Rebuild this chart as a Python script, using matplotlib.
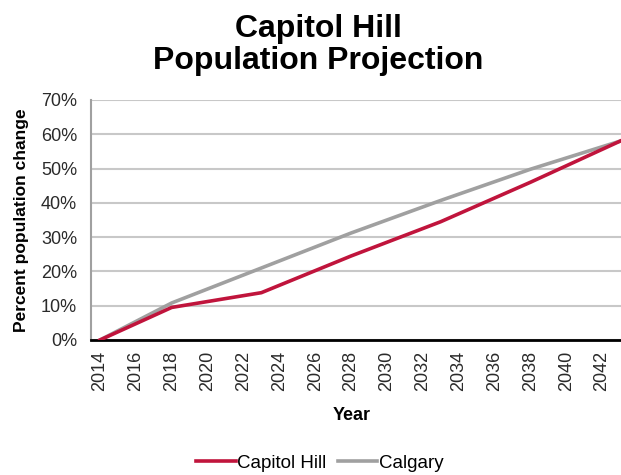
import numpy as np
import matplotlib.pyplot as plt
from matplotlib.ticker import FuncFormatter, MultipleLocator

plt.rcParams['font.family'] = ['Liberation Sans', 'DejaVu Sans']

# Projection values (percent change since 2014)
years = [2014, 2018, 2023, 2028, 2033, 2038, 2043]
capitol_hill = [0.0, 9.5, 13.8, 24.5, 34.5, 46.0, 58.0]
calgary = [0.0, 10.8, 21.0, 31.2, 40.7, 49.8, 58.0]
tick_years = list(range(2014, 2043, 2))

fig = plt.figure(figsize=(6.21, 4.75), dpi=100)
# axes runs slightly past the right edge of the picture, like the source crop
ax = fig.add_axes([91 / 621, 135 / 475, 538 / 621, 240 / 475])

ax.plot(years, capitol_hill, color='#c0143c', lw=2.6, label='Capitol Hill', zorder=3)
ax.plot(years, calgary, color='#a0a0a0', lw=2.6, label='Calgary', zorder=2)

ax.set_xlim(2013.5, 2043.5)
ax.set_ylim(0, 70)
ax.yaxis.set_major_locator(MultipleLocator(10))
ax.yaxis.set_major_formatter(FuncFormatter(lambda v, p: f'{v:.0f}%'))
ax.set_xticks(tick_years)
ax.set_xticklabels([str(y) for y in tick_years], rotation=90)
ax.tick_params(axis='both', length=0, labelsize=13, colors='#2a2a2a')
ax.tick_params(axis='x', pad=8)
ax.tick_params(axis='y', pad=10)

ax.grid(axis='y', color='#c8c8c8', lw=1.5)
ax.set_axisbelow(True)
for s in ['top', 'right']:
    ax.spines[s].set_visible(False)
ax.spines['left'].set_color('#a0a0a0')
ax.spines['left'].set_linewidth(1.5)
ax.spines['bottom'].set_color('black')
ax.spines['bottom'].set_linewidth(2)

ax.set_ylabel('Percent population change', fontsize=12.5, fontweight='bold')
ax.yaxis.set_label_coords(-0.115, 0.5)
fig.text(352 / 621, 1 - 416 / 475, 'Year', ha='center', va='center',
         fontsize=13, fontweight='bold')

fig.text(318 / 621, 1 - 45 / 475, 'Capitol Hill\nPopulation Projection', ha='center',
         va='center', fontsize=23, fontweight='bold', linespacing=1.1)

fig.legend(loc='center', bbox_to_anchor=(320 / 621, 1 - 463 / 475), ncol=2,
           frameon=False, fontsize=13.5, handlelength=2.1, handletextpad=0.1,
           columnspacing=0.6)

plt.savefig('out.png', dpi=100)
